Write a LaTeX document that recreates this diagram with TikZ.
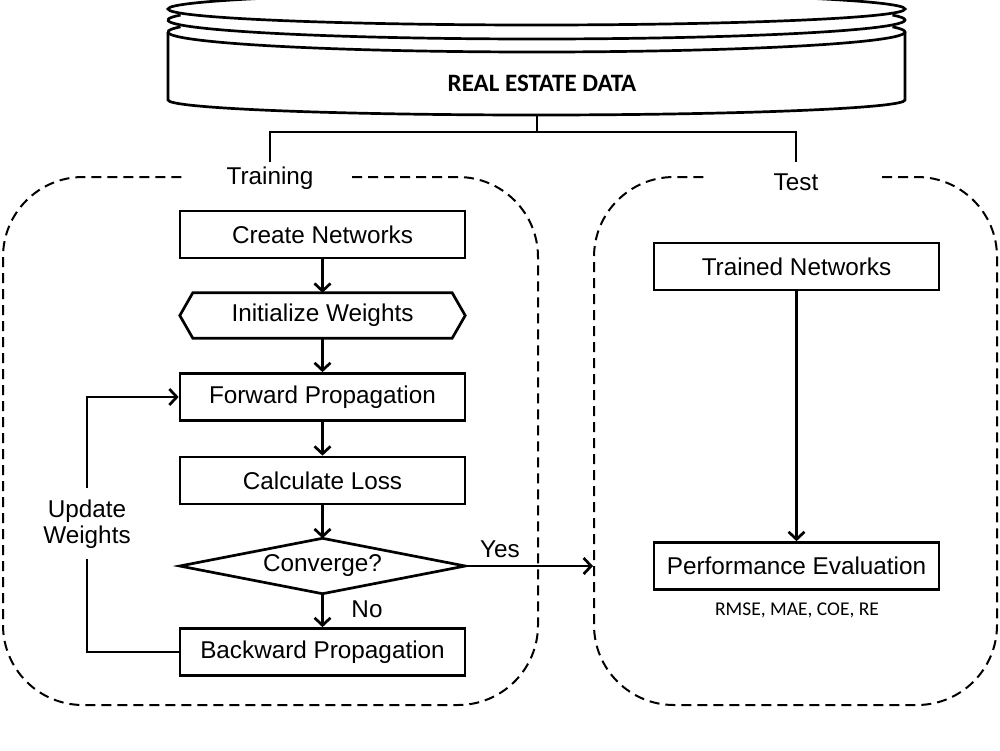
\documentclass[tikz,border=0pt]{standalone}
\usepackage{fontspec}
\setmainfont{Liberation Sans}
\newfontfamily\carl{Carlito}
\usetikzlibrary{arrows.meta}
\begin{document}
\begin{tikzpicture}[x=1pt,y=-1pt,
  box/.style={draw, line width=2.7pt, minimum width=285pt, minimum height=47pt, inner sep=0pt, font=\fontsize{24.3}{28}\selectfont},
  lbl/.style={font=\fontsize{24.3}{26}\selectfont, inner sep=0pt},
  arr/.style={line width=2.7pt, -{Straight Barb[length=7.5pt,width=16pt]}},
  conn/.style={line width=2.7pt},
  cyl/.style={line width=2.7pt},
  grp/.style={line width=2pt, dash pattern=on 10pt off 6pt, rounded corners=80pt}]
\useasboundingbox (0,0) rectangle (1000,750);

% database cylinder
\draw[cyl] (536.5,9) ellipse [x radius=368.5pt, y radius=16pt];
\draw[cyl] (536.5,20) ++(165:368.5pt and 19pt) arc[start angle=165, end angle=375, x radius=368.5pt, y radius=19pt];
\draw[cyl] (536.5,32) ++(165:368.5pt and 20pt) arc[start angle=165, end angle=375, x radius=368.5pt, y radius=20pt];
\draw[cyl] (168,32) -- (168,100) arc[start angle=180, end angle=360, x radius=368.5pt, y radius=15pt] -- (905,32);
\node[font=\carl\bfseries\fontsize{25}{28}\selectfont] (data) at (542,83) {REAL ESTATE DATA};
\coordinate (dbot) at (537,115);
\coordinate (split) at (537,132);
\coordinate (tl) at (270,162);
\coordinate (tr) at (796,162);
\draw[conn] (dbot) -- (split);
\draw[conn] (tl) |- (split) -| (tr);

% group frames
\draw[grp] (352,177) -| (538,705) -| (3,177) -- (185,177);
\draw[grp] (882,177) -| (997,705) -| (594,177) -- (708,177);
\node[lbl] (train) at (270,178) {Training};
\node[lbl] (test) at (796,182) {Test};

% training flow
\node[box] (create) at (322.5,234.5) {Create Networks};
\node[lbl, minimum width=285pt, minimum height=45pt] (init) at (322.5,315.5) {Initialize Weights};
\draw[line width=2.7pt] ([xshift=13pt]init.north west) -- ([xshift=-13pt]init.north east) -- (init.east)
  -- ([xshift=-13pt]init.south east) -- ([xshift=13pt]init.south west) -- (init.west) -- cycle;
\node[box] (fwd) at (322.5,397) {Forward Propagation};
\node[box] (loss) at (322.5,480.5) {Calculate Loss};
\node[lbl, minimum width=285pt, minimum height=55pt] (conv) at (322.5,566) {Converge?};
\draw[line width=2.7pt] (conv.north) -- (conv.east) -- (conv.south) -- (conv.west) -- cycle;
\node[box] (bwd) at (322.5,652) {Backward Propagation};
\node[lbl, align=center] (upd) at (87,524) {Update\\Weights};
\coordinate (updtop) at (87,488);
\coordinate (updbot) at (87,559);

\draw[arr] (create) -- (init);
\draw[arr] (init) -- (fwd);
\draw[arr] (fwd) -- (loss);
\draw[arr] (loss) -- (conv.north);
\draw[arr] (conv.south) -- (bwd);
\node[lbl] (no) at (367,609) {No};
\coordinate (testin) at (593,566);
\draw[arr] (conv.east) -- (testin);
\node[lbl] (yes) at (500,549) {Yes};
\draw[conn] (bwd.west) -| (updbot);
\draw[arr] (updtop) |- (fwd.west);

% test flow
\node[box] (trained) at (796.5,266.5) {Trained Networks};
\node[box] (perf) at (796.5,566) {Performance Evaluation};
\node[font=\carl\fontsize{19.5}{22}\selectfont] (metrics) at (797,610) {RMSE, MAE, COE, RE};
\draw[arr] (trained) -- (perf);
\end{tikzpicture}
\end{document}
